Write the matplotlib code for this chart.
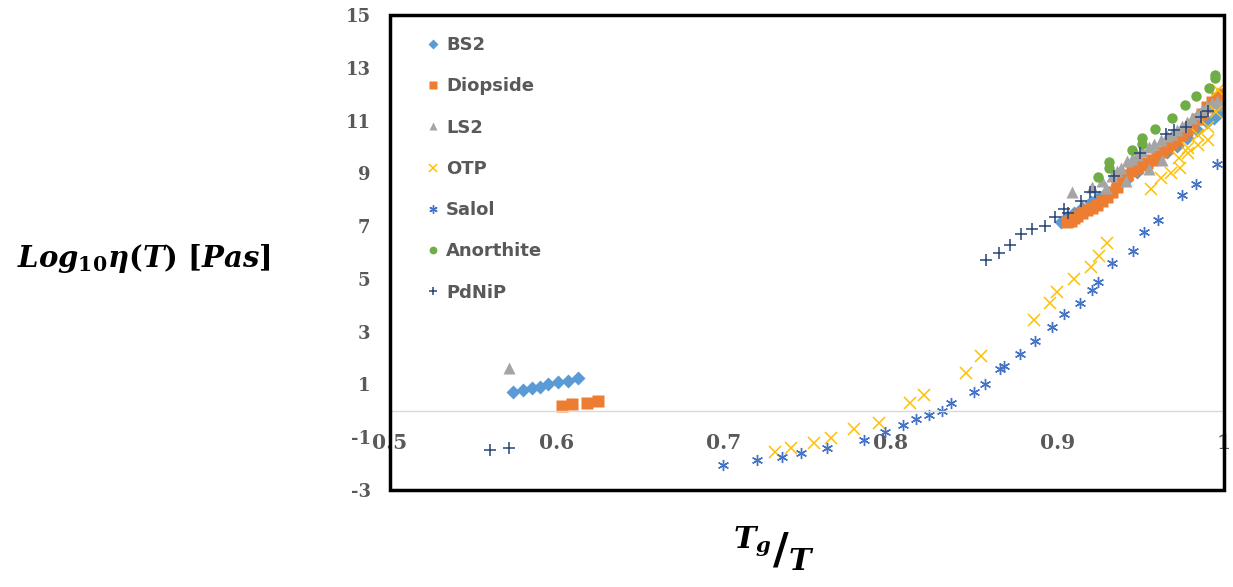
import numpy as np
import matplotlib
matplotlib.use('Agg')
from matplotlib import pyplot as plt
from matplotlib.patches import Rectangle

# Tg/T and log10 viscosity
bs2_x = [0.574, 0.580, 0.585, 0.590, 0.595, 0.601, 0.607, 0.613,
         0.902, 0.906, 0.910, 0.915, 0.920, 0.925, 0.930, 0.936, 0.942, 0.948,
         0.954, 0.960, 0.966, 0.972, 0.978, 0.984, 0.990, 0.994, 0.997, 1.000]
bs2_y = [0.73, 0.79, 0.86, 0.92, 1.01, 1.09, 1.12, 1.23,
         7.15, 7.35, 7.50, 7.70, 7.90, 8.10, 8.30, 8.55, 8.80, 9.05,
         9.30, 9.55, 9.80, 10.05, 10.35, 10.65, 10.95, 11.10, 11.30, 11.50]

diop_x = [0.603, 0.609, 0.618, 0.625,
          0.906, 0.908, 0.910, 0.912, 0.915, 0.918, 0.921, 0.924, 0.927, 0.930,
          0.933, 0.936, 0.939, 0.942, 0.945, 0.948, 0.951, 0.954, 0.957, 0.960,
          0.963, 0.966, 0.969, 0.972, 0.975, 0.978, 0.981, 0.984, 0.987, 0.990,
          0.993, 0.996, 0.999]
diop_y = [0.18, 0.25, 0.31, 0.37,
          7.15, 7.20, 7.30, 7.40, 7.50, 7.60, 7.70, 7.80, 7.95, 8.10,
          8.30, 8.50, 8.75, 8.95, 9.10, 9.20, 9.30, 9.40, 9.50, 9.65,
          9.80, 9.95, 10.10, 10.25, 10.45, 10.65, 10.85, 11.05, 11.25, 11.50,
          11.70, 11.85, 12.00]

ls2_x = [0.5715, 0.909, 0.921, 0.927, 0.929, 0.933, 0.936, 0.938, 0.941, 0.942,
         0.945, 0.948, 0.951, 0.955, 0.955, 0.958, 0.962, 0.963, 0.966, 0.969,
         0.972, 0.975, 0.978, 0.981, 0.984, 0.987, 0.990, 0.993, 0.996, 0.998]
ls2_y = [1.62, 8.30, 8.50, 8.70, 8.45, 8.90, 9.10, 9.20, 8.70, 9.45,
         9.55, 9.70, 9.85, 9.15, 10.00, 10.10, 10.25, 9.50, 10.40, 10.50,
         10.65, 10.80, 10.95, 11.10, 11.25, 11.40, 11.55, 11.65, 11.75, 11.60]

otp_x = [0.7308, 0.7402, 0.7539, 0.7643, 0.7783, 0.7933, 0.8119, 0.8203,
         0.8453, 0.8544, 0.8858, 0.8954, 0.9000, 0.9100, 0.9200, 0.9251, 0.9300,
         0.9565, 0.9625, 0.9681, 0.9735, 0.9731, 0.9785, 0.9785, 0.9845, 0.9845,
         0.9905, 0.9905, 0.9955, 0.9965]
otp_y = [-1.55, -1.40, -1.21, -1.02, -0.70, -0.45, 0.29, 0.60,
         1.45, 2.08, 3.44, 4.10, 4.49, 4.98, 5.46, 5.87, 6.37,
         8.41, 8.81, 9.00, 9.19, 9.57, 9.76, 9.95, 10.07, 10.45,
         10.26, 10.77, 11.34, 12.16]

salol_x = [0.6996, 0.7198, 0.7352, 0.7462, 0.7617, 0.7839, 0.7969, 0.8077,
           0.8155, 0.8233, 0.8308, 0.8363, 0.8500, 0.8569, 0.8660, 0.8680,
           0.8778, 0.8864, 0.8968, 0.9040, 0.9134, 0.9208, 0.9244, 0.9330,
           0.9456, 0.9521, 0.9605, 0.9749, 0.9835, 0.9961]
salol_y = [-2.06, -1.86, -1.74, -1.59, -1.42, -1.10, -0.79, -0.54,
           -0.31, -0.16, -0.01, 0.29, 0.73, 1.01, 1.57, 1.71,
           2.15, 2.66, 3.17, 3.67, 4.08, 4.58, 4.89, 5.59,
           6.07, 6.77, 7.23, 8.18, 8.60, 9.34]

anor_x = [0.9244, 0.9311, 0.9311, 0.9449, 0.9511, 0.9511, 0.9584, 0.9689,
          0.9765, 0.9835, 0.9911, 0.9945, 0.9945]
anor_y = [8.85, 9.21, 9.44, 9.88, 10.11, 10.33, 10.67, 11.11,
          11.59, 11.93, 12.25, 12.60, 12.73]

pdnip_x = [0.5601, 0.5713, 0.8574, 0.8650, 0.8720, 0.8784, 0.8848, 0.8924,
           0.8984, 0.9038, 0.9064, 0.9140, 0.9194, 0.9224, 0.9341, 0.9494,
           0.9655, 0.9701, 0.9775, 0.9865, 0.9905]
pdnip_y = [-1.48, -1.42, 5.70, 5.98, 6.27, 6.70, 6.89, 7.02,
           7.33, 7.65, 7.49, 7.96, 8.28, 8.30, 8.90, 9.76,
           10.49, 10.64, 10.77, 11.12, 11.37]

x_ticks = [0.5, 0.6, 0.7, 0.8, 0.9, 1.0]
x_labels = ['0.5', '0.6', '0.7', '0.8', '0.9', '1']
y_ticks = [-3, -1, 1, 3, 5, 7, 9, 11, 13, 15]

plt.rcParams['axes.unicode_minus'] = False
plt.rcParams['mathtext.fontset'] = 'custom'
plt.rcParams['mathtext.it'] = 'DejaVu Serif:italic:bold'
plt.rcParams['mathtext.rm'] = 'DejaVu Serif:bold'
plt.rcParams['mathtext.bf'] = 'DejaVu Serif:bold'

grey = '#595959'
fig = plt.figure(figsize=(12.33, 5.87), dpi=100)
ax = fig.add_axes([0.3163, 0.1652, 0.6764, 0.8092])

ax.plot(bs2_x, bs2_y, 'D', color='#5B9BD5', ms=7, mec='none', label='BS2')
ax.plot(diop_x, diop_y, 's', color='#ED7D31', ms=8, mec='none', label='Diopside')
ax.plot(ls2_x, ls2_y, '^', color='#A5A5A5', ms=8, mec='none', label='LS2')
ax.plot(otp_x, otp_y, 'x', color='#FFC000', ms=8, mew=1.1, label='OTP')
ax.plot(salol_x, salol_y, marker=(6, 2, 0), ls='none', color='#4472C4', ms=8, mew=1.0, label='Salol')
ax.plot(anor_x, anor_y, 'o', color='#70AD47', ms=7.5, mec='none', label='Anorthite')
ax.plot(pdnip_x, pdnip_y, '+', color='#264478', ms=8, mew=1.1, label='PdNiP')

ax.set_xlim(0.5, 1.0)
ax.set_ylim(-3, 15)
ax.set_xticks(x_ticks)
ax.set_xticklabels(x_labels)
ax.set_yticks(y_ticks)

for s in ['top', 'left', 'right']:
    ax.spines[s].set_visible(False)
ax.spines['bottom'].set_position(('data', 0))
ax.spines['bottom'].set_color('#D9D9D9')
ax.spines['bottom'].set_linewidth(1)
ax.add_patch(Rectangle((0, 0), 1, 1, transform=ax.transAxes, fill=False,
                       ec='black', lw=2.5, clip_on=False, zorder=5))

ax.tick_params(axis='x', length=0, pad=16, labelsize=14.5, labelcolor=grey)
ax.tick_params(axis='y', length=0, pad=14, labelsize=13, labelcolor=grey)
for lab in ax.get_xticklabels() + ax.get_yticklabels():
    lab.set_family('DejaVu Serif')
    lab.set_weight('bold')

leg = ax.legend(loc='upper left', bbox_to_anchor=(0.025, 0.99), frameon=False,
                handlelength=0.6, handletextpad=0.45, labelspacing=1.29, markerscale=0.75,
                prop={'family': 'DejaVu Sans', 'weight': 'bold', 'size': 13})
for t in leg.get_texts():
    t.set_color(grey)

fig.text(0.117, 0.56, r'$Log_{10}\eta(T)\ [Pas]$', fontsize=21,
         ha='center', va='center', color='black')
fig.text(0.628, 0.065, r'${}^{T_{g}}/_{T}$', fontsize=31,
         ha='center', va='center', color='black')

plt.savefig('out.png', dpi=100)
